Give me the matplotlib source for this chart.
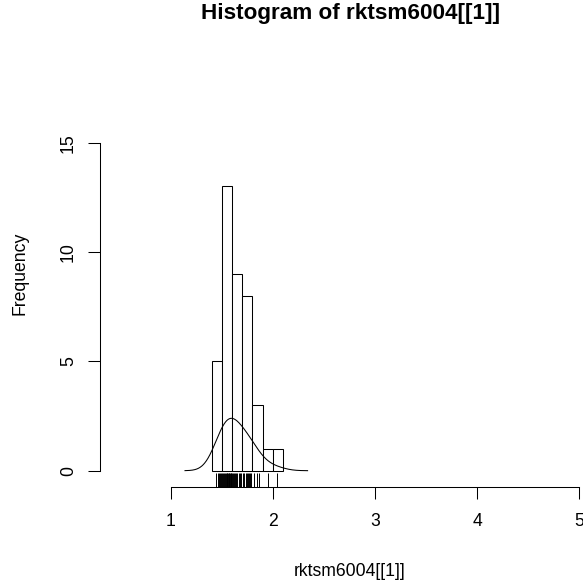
import numpy as np
import matplotlib
matplotlib.use('Agg')
import matplotlib.pyplot as plt

plt.rcParams['font.family'] = ['Liberation Sans', 'DejaVu Sans']

# ------------ DATA ------------
values = [1.44, 1.46, 1.47, 1.48, 1.49,
          1.50, 1.51, 1.52, 1.53, 1.54, 1.55, 1.55, 1.56, 1.57, 1.57, 1.58, 1.59, 1.59,
          1.60, 1.61, 1.62, 1.63, 1.64, 1.65, 1.67, 1.68, 1.69,
          1.71, 1.72, 1.74, 1.75, 1.76, 1.77, 1.78, 1.79,
          1.82, 1.84, 1.86,
          1.95,
          2.04]
bin_edges = [1.4, 1.5, 1.6, 1.7, 1.8, 1.9, 2.0, 2.1]
x_ticks = [1, 2, 3, 4, 5]
y_ticks = [0, 5, 10, 15]
bandwidth = 0.1

title = 'Histogram of rktsm6004[[1]]'
xlabel = 'rktsm6004[[1]]'
ylabel = 'Frequency'

# ------------ DENSITY (gaussian kernel, like R's density()) ------------
x = np.array(values)
grid = np.linspace(x.min() - 3 * bandwidth, x.max() + 3 * bandwidth, 512)
dens = np.exp(-0.5 * ((grid[:, None] - x[None, :]) / bandwidth) ** 2).sum(axis=1)
dens /= len(x) * bandwidth * np.sqrt(2 * np.pi)

# ------------ PLOT ------------
W, H = 583, 584
fig = plt.figure(figsize=(W / 100, H / 100), dpi=100)

# pixel layout of the plot region
px_left, px_right = 100, 582
px_top, px_bottom = 120, 486.7
ax = fig.add_axes([px_left / W, (H - px_bottom) / H,
                   (px_right - px_left) / W, (px_bottom - px_top) / H])

x0_px, x_scale = 170.7, 102.15
y0_px, y_scale = 470.7, 21.87
ax.set_xlim(1 + (px_left - x0_px) / x_scale, 1 + (px_right - x0_px) / x_scale)
ax.set_ylim((y0_px - px_bottom) / y_scale, (y0_px - px_top) / y_scale)

ax.hist(values, bins=bin_edges, facecolor='white', edgecolor='black', linewidth=0.75)
ax.plot(grid, dens, color='black', linewidth=0.75)

# rug along the bottom axis
rug_h = 14.0 / y_scale
ybot = ax.get_ylim()[0]
ax.vlines(values, ybot, ybot + rug_h, color='black', linewidth=0.7)

for s in ['top', 'right']:
    ax.spines[s].set_visible(False)
ax.spines['left'].set_bounds(0, 15)
ax.spines['bottom'].set_bounds(1, 5)
for s in ['left', 'bottom']:
    ax.spines[s].set_linewidth(0.75)

ax.set_xticks(x_ticks)
ax.set_yticks(y_ticks)
ax.tick_params(length=8.6, width=0.75, labelsize=12.7, color='black')
ax.tick_params(axis='x', pad=10)
ax.tick_params(axis='y', pad=8)
for lab in ax.get_yticklabels():
    lab.set_rotation(90)
    lab.set_va('center')

fig.text(351 / W, 1 - 14 / H, title, ha='center', va='center',
         fontsize=16.2, fontweight='bold')
fig.text(350 / W, 1 - 571 / H, xlabel, ha='center', va='center', fontsize=12.7)
fig.text(20 / W, 1 - 273 / H, ylabel, ha='center', va='center', fontsize=12.7,
         rotation=90)

fig.savefig('out.png', dpi=100)
